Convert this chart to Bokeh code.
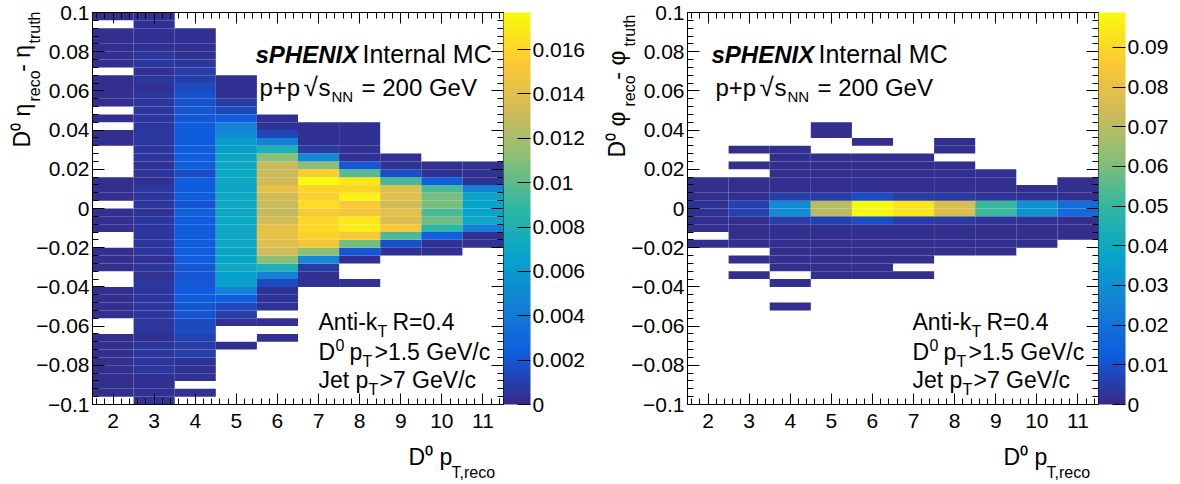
import numpy as np
from bokeh.plotting import figure
from bokeh.models import (Range1d, LinearAxis, SingleIntervalTicker, CustomJSTickFormatter,
                          LinearColorMapper, ColorBar, Label, Title, ColumnDataSource)
from bokeh.layouts import row
from bokeh.embed import file_html
from bokeh.resources import INLINE

FONT = "Liberation Sans"

# ---------------- data ----------------
pt_bins = [2, 3, 4, 5, 6, 7, 8, 9, 10, 11]      # D0 pT,reco bin centres (bin width 1)
y_low, y_bin, n_ybins = -0.1, 0.004, 50           # residual bins, listed bottom -> top

ETA_UNIT = 1e-4   # left panel values in units of 1e-4
eta_pt2 = [0, 2.5, 2.5, 2.5, 2.5, 2.5, 2.5, 2.5, 2.5, 0,
           0, 2.5, 2.5, 2.5, 2.5, 0, 0, 2.5, 2.5, 2.5,
           0, 0, 2.5, 2.5, 2.5, 0, 2.5, 2.5, 2.5, 0,
           0, 0, 0, 2.5, 2.5, 0, 2.5, 0, 2.5, 2.5,
           2.5, 2.5, 0, 2.5, 2.5, 2.5, 2.5, 2.5, 0, 2.5]
eta_pt3 = [3, 3, 3, 3, 6, 6, 6, 6, 3, 6,
           6, 6, 6, 6, 6, 6, 3, 6, 3, 6,
           6, 6, 6, 6, 4, 6, 6, 6, 3, 6,
           3, 6, 6, 6, 6, 6, 6, 6, 6, 6,
           3, 6, 3, 6, 6, 3, 3, 3, 3, 3]
eta_pt4 = [0, 3, 0, 4, 4, 4, 9, 9, 11, 15,
           15, 19, 19, 23, 23, 20, 20, 20, 23, 23,
           23, 23, 23, 23, 25, 19, 23, 23, 23, 16,
           23, 23, 23, 23, 23, 23, 20, 20, 18, 18,
           14, 9, 9, 6, 3, 3, 3, 3, 0, 0]
eta_pt5 = [0, 0, 0, 0, 0, 0, 0, 3, 0, 0,
           3, 8, 14, 24, 45, 64, 64, 70, 68, 68,
           70, 70, 70, 70, 70, 70, 70, 70, 70, 70,
           70, 70, 63, 63, 50, 44, 23, 14, 7, 3,
           3, 3, 0, 0, 0, 0, 0, 0, 0, 0]
eta_pt6 = [0, 0, 0, 0, 0, 0, 0, 0, 3, 0,
           3, 0, 4, 4, 4, 14, 44, 80, 113, 133,
           138, 143, 142, 134, 128, 130, 133, 142, 133, 131,
           130, 112, 80, 44, 13, 4, 3, 0, 0, 0,
           0, 0, 0, 0, 0, 0, 0, 0, 0, 0]
eta_pt7 = [0, 0, 0, 0, 0, 0, 0, 0, 0, 0,
           0, 0, 0, 0, 0, 3, 3, 8, 50, 112,
           150, 159, 162, 162, 153, 163, 157, 160, 177, 156,
           112, 50, 8, 3, 3, 3, 0, 0, 0, 0,
           0, 0, 0, 0, 0, 0, 0, 0, 0, 0]
eta_pt8 = [0, 0, 0, 0, 0, 0, 0, 0, 0, 0,
           0, 0, 0, 0, 0, 3, 0, 0, 3, 20,
           106, 153, 170, 168, 150, 153, 172, 160, 168, 99,
           20, 3, 3, 3, 3, 3, 0, 0, 0, 0,
           0, 0, 0, 0, 0, 0, 0, 0, 0, 0]
eta_pt9 = [0, 0, 0, 0, 0, 0, 0, 0, 0, 0,
           0, 0, 0, 0, 0, 0, 0, 0, 0, 3,
           18, 95, 152, 137, 140, 133, 140, 138, 94, 16,
           3, 3, 0, 0, 0, 0, 0, 0, 0, 0,
           0, 0, 0, 0, 0, 0, 0, 0, 0, 0]
eta_pt10 = [0, 0, 0, 0, 0, 0, 0, 0, 0, 0,
            0, 0, 0, 0, 0, 0, 0, 0, 0, 3,
            3, 24, 88, 104, 95, 107, 107, 95, 24, 3,
            3, 0, 0, 0, 0, 0, 0, 0, 0, 0,
            0, 0, 0, 0, 0, 0, 0, 0, 0, 0]
eta_pt11 = [0, 0, 0, 0, 0, 0, 0, 0, 0, 0,
            0, 0, 0, 0, 0, 0, 0, 0, 0, 0,
            3, 3, 45, 70, 66, 66, 68, 45, 4, 3,
            3, 0, 0, 0, 0, 0, 0, 0, 0, 0,
            0, 0, 0, 0, 0, 0, 0, 0, 0, 0]

PHI_UNIT = 1e-3   # right panel values in units of 1e-3
phi_pt2 = [0, 0, 0, 0, 0, 0, 0, 0, 0, 0,
           0, 0, 0, 0, 0, 0, 0, 0, 0, 0,
           1.5, 0, 1.5, 1.5, 2, 2, 1.5, 1.5, 1.5, 0,
           0, 0, 0, 0, 0, 0, 0, 0, 0, 0,
           0, 0, 0, 0, 0, 0, 0, 0, 0, 0]
phi_pt3 = [0, 0, 0, 0, 0, 0, 0, 0, 0, 0,
           0, 0, 0, 0, 0, 0, 1.5, 0, 1.5, 0,
           1.5, 1.5, 1.5, 1.5, 6, 6, 1.5, 1.5, 1.5, 0,
           1.5, 0, 1.5, 0, 0, 0, 0, 0, 0, 0,
           0, 0, 0, 0, 0, 0, 0, 0, 0, 0]
phi_pt4 = [0, 0, 0, 0, 0, 0, 0, 0, 0, 0,
           0, 0, 1.5, 0, 0, 1.5, 0, 1.5, 1.5, 1.5,
           1.5, 1.5, 1.5, 5, 29, 29, 5, 1.5, 1.5, 1.5,
           1.5, 1.5, 1.5, 0, 0, 0, 0, 0, 0, 0,
           0, 0, 0, 0, 0, 0, 0, 0, 0, 0]
phi_pt5 = [0, 0, 0, 0, 0, 0, 0, 0, 0, 0,
           0, 0, 0, 0, 0, 0, 1.5, 1.5, 1.5, 1.5,
           1.5, 1.5, 1.5, 6, 70, 70, 5, 1.5, 1.5, 1.5,
           1.5, 1.5, 0, 0, 1.5, 1.5, 0, 0, 0, 0,
           0, 0, 0, 0, 0, 0, 0, 0, 0, 0]
phi_pt6 = [0, 0, 0, 0, 0, 0, 0, 0, 0, 0,
           0, 0, 0, 0, 0, 0, 1.5, 1.5, 1.5, 1.5,
           1.5, 1.5, 1.5, 9, 98, 98, 9, 1.5, 1.5, 1.5,
           1.5, 1.5, 0, 1.5, 0, 0, 0, 0, 0, 0,
           0, 0, 0, 0, 0, 0, 0, 0, 0, 0]
phi_pt7 = [0, 0, 0, 0, 0, 0, 0, 0, 0, 0,
           0, 0, 0, 0, 0, 0, 1.5, 0, 1.5, 1.5,
           1.5, 1.5, 1.5, 5, 93, 93, 5, 1.5, 1.5, 1.5,
           1.5, 1.5, 0, 0, 0, 0, 0, 0, 0, 0,
           0, 0, 0, 0, 0, 0, 0, 0, 0, 0]
phi_pt8 = [0, 0, 0, 0, 0, 0, 0, 0, 0, 0,
           0, 0, 0, 0, 0, 0, 0, 0, 0, 1.5,
           1.5, 1.5, 1.5, 4, 77, 77, 4, 1.5, 1.5, 1.5,
           1.5, 0, 1.5, 1.5, 0, 0, 0, 0, 0, 0,
           0, 0, 0, 0, 0, 0, 0, 0, 0, 0]
phi_pt9 = [0, 0, 0, 0, 0, 0, 0, 0, 0, 0,
           0, 0, 0, 0, 0, 0, 0, 0, 0, 1.5,
           1.5, 1.5, 1.5, 3, 51, 51, 3, 1.5, 1.5, 1.5,
           0, 0, 0, 0, 0, 0, 0, 0, 0, 0,
           0, 0, 0, 0, 0, 0, 0, 0, 0, 0]
phi_pt10 = [0, 0, 0, 0, 0, 0, 0, 0, 0, 0,
            0, 0, 0, 0, 0, 0, 0, 0, 0, 0,
            1.5, 1.5, 1.5, 2, 31, 31, 2, 1.5, 0, 0,
            0, 0, 0, 0, 0, 0, 0, 0, 0, 0,
            0, 0, 0, 0, 0, 0, 0, 0, 0, 0]
phi_pt11 = [0, 0, 0, 0, 0, 0, 0, 0, 0, 0,
            0, 0, 0, 0, 0, 0, 0, 0, 0, 0,
            0, 1.5, 1.5, 1.5, 18, 18, 1.5, 1.5, 1.5, 0,
            0, 0, 0, 0, 0, 0, 0, 0, 0, 0,
            0, 0, 0, 0, 0, 0, 0, 0, 0, 0]

eta_columns = [eta_pt2, eta_pt3, eta_pt4, eta_pt5, eta_pt6, eta_pt7, eta_pt8, eta_pt9, eta_pt10, eta_pt11]
phi_columns = [phi_pt2, phi_pt3, phi_pt4, phi_pt5, phi_pt6, phi_pt7, phi_pt8, phi_pt9, phi_pt10, phi_pt11]

eta_zmax, eta_cb_step = 0.01767, 0.002
phi_zmax, phi_cb_step = 0.0988, 0.01

# ROOT kBird palette definition
bird_stops = [0.0, 0.125, 0.25, 0.375, 0.5, 0.625, 0.75, 0.875, 1.0]
bird_r = [0.2082, 0.0592, 0.0780, 0.0232, 0.1802, 0.5301, 0.8186, 0.9956, 0.9764]
bird_g = [0.1664, 0.3599, 0.5041, 0.6419, 0.7178, 0.7492, 0.7328, 0.7862, 0.9832]
bird_b = [0.5293, 0.8684, 0.8385, 0.7914, 0.6425, 0.4662, 0.3499, 0.1968, 0.0539]


def bird_palette(n=255):
    t = np.linspace(0, 1, n)
    r = np.interp(t, bird_stops, bird_r)
    g = np.interp(t, bird_stops, bird_g)
    b = np.interp(t, bird_stops, bird_b)
    return ["#%02x%02x%02x" % (int(round(a * 255)), int(round(c * 255)), int(round(d * 255)))
            for a, c, d in zip(r, g, b)]


BIRD = bird_palette()

# ---------------- layout constants ----------------
FIG_W, FIG_H = 590, 484
FRAME_W = 411
REF_XPX = 41.1        # px per pT unit
REF_YPX = 1960.0      # px per residual unit
FRAME_BOTTOM = 404.0  # page y of frame bottom
BASE_SHIFT = 0.35     # label baseline correction, in font-size units
NB = "\u00a0"


def num_formatter():
    return CustomJSTickFormatter(code="""
        if (Math.abs(tick) < 1e-12) { return "0"; }
        const s = String(parseFloat(tick.toFixed(6)));
        return s.replace("-", "\\u2212");
    """)


def style_axis(ax, tick_in, minor_in, labels):
    ax.axis_line_color = "black"
    ax.major_tick_line_color = "black"
    ax.minor_tick_line_color = "black"
    ax.major_tick_out = 0
    ax.minor_tick_out = 0
    ax.major_tick_in = tick_in
    ax.minor_tick_in = minor_in
    ax.axis_label = None
    if labels:
        ax.major_label_text_font = FONT
        ax.major_label_text_font_size = "21px"
        ax.major_label_text_color = "black"
        ax.formatter = num_formatter()
    else:
        ax.formatter = CustomJSTickFormatter(code="return '';")
        ax.major_label_text_font_size = "0px"
        ax.major_label_standoff = 0


def build_source(columns, unit):
    centres = y_low + y_bin * (np.arange(n_ybins) + 0.5)
    xs, ys, vs = [], [], []
    for pt, col in zip(pt_bins, columns):
        for yc, v in zip(centres, col):
            if v > 0:
                xs.append(pt)
                ys.append(float(yc))
                vs.append(v * unit)
    return ColumnDataSource(dict(x=xs, y=ys, v=vs))


def make_panel(columns, unit, zmax, cb_step, page_left, border_left, labels, titles):
    border_right = FIG_W - border_left - FRAME_W
    p = figure(width=FIG_W, height=FIG_H, x_range=Range1d(1.5, 11.5), y_range=Range1d(-0.1, 0.1),
               output_backend="svg", toolbar_location=None,
               min_border_left=border_left, min_border_right=border_right,
               min_border_top=12, min_border_bottom=80)
    p.grid.visible = False
    p.outline_line_color = "black"
    p.outline_line_width = 1
    p.background_fill_color = "white"
    p.border_fill_color = "white"

    mapper = LinearColorMapper(palette=BIRD, low=0, high=zmax)
    src = build_source(columns, unit)
    p.rect(x="x", y="y", width=1, height=y_bin, source=src,
           fill_color={"field": "v", "transform": mapper}, line_color=None)

    xa = p.xaxis[0]
    xa.ticker = SingleIntervalTicker(interval=1, num_minor_ticks=5)
    style_axis(xa, 11, 6, True)
    xa.major_label_standoff = 9
    ya = p.yaxis[0]
    ya.ticker = SingleIntervalTicker(interval=0.02, num_minor_ticks=5)
    style_axis(ya, 12, 6, True)
    ya.major_label_standoff = 3

    top = LinearAxis(ticker=SingleIntervalTicker(interval=1, num_minor_ticks=5))
    style_axis(top, 11, 6, False)
    p.add_layout(top, "above")
    right = LinearAxis(ticker=SingleIntervalTicker(interval=0.02, num_minor_ticks=5))
    style_axis(right, 12, 6, False)
    right.major_label_standoff = 2
    p.add_layout(right, "right")

    cb = ColorBar(color_mapper=mapper,
                  ticker=SingleIntervalTicker(interval=cb_step, num_minor_ticks=0),
                  formatter=num_formatter(), width=27, padding=0, margin=0,
                  label_standoff=2, major_tick_in=13, major_tick_out=0,
                  major_tick_line_color="black", minor_tick_line_color=None,
                  major_label_text_font=FONT, major_label_text_font_size="21px",
                  major_label_text_color="black", bar_line_color=None,
                  border_line_color=None, background_fill_color=None)
    p.add_layout(cb, "right")

    # invisible spacer below the x axis (pushes the x title down)
    spacer = LinearAxis(ticker=SingleIntervalTicker(interval=1, num_minor_ticks=0))
    style_axis(spacer, 0, 0, False)
    spacer.major_tick_out = 12
    spacer.axis_line_color = None
    spacer.major_tick_line_color = None
    spacer.minor_tick_line_color = None
    p.add_layout(spacer, "below")

    # axis titles (side-panel titles, so they are not clipped by the frame)
    for side, text, size, valign, offset, standoff in titles:
        p.add_layout(Title(text=text, align="left", vertical_align=valign, offset=offset,
                           standoff=standoff, text_font=FONT, text_font_size=f"{size}px",
                           text_font_style="normal", text_color="black"), side)

    frame_left = page_left + border_left
    for (text, px, py, size, style) in labels:
        x = 1.5 + (px - frame_left) / REF_XPX
        y = -0.1 + (FRAME_BOTTOM - (py - BASE_SHIFT * size)) / REF_YPX
        p.add_layout(Label(x=x, y=y, text=text, text_font=FONT, text_font_size=f"{size}px",
                           text_font_style=style, text_color="black",
                           text_align="left", text_baseline="alphabetic"))
    return p


def inner_labels(top_dx, bot_dx):
    return [
        ("sPHENIX", 255 + top_dx, 62, 24, "bold italic"),
        ("Internal MC", 362 + top_dx, 62, 25, "normal"),
        ("p+p", 259 + top_dx, 95, 24, "normal"),
        ("\u221a", 303 + top_dx, 96, 26, "normal"),
        ("s", 318 + top_dx, 95, 24, "normal"),
        ("NN", 331 + top_dx, 101, 15, "normal"),
        ("= 200 GeV", 361 + top_dx, 95, 24, "normal"),
        ("Anti-k", 318 + bot_dx, 330, 23, "normal"),
        ("T", 377 + bot_dx, 337, 16, "normal"),
        ("R=0.4", 392 + bot_dx, 330, 23, "normal"),
        ("D", 318 + bot_dx, 360, 23, "normal"),
        ("0", 335 + bot_dx, 350, 16, "normal"),
        ("p", 349 + bot_dx, 360, 23, "normal"),
        ("T", 362 + bot_dx, 367, 16, "normal"),
        (">1.5 GeV/c", 374 + bot_dx, 360, 23, "normal"),
        ("Jet p", 318 + bot_dx, 388, 23, "normal"),
        ("T", 368 + bot_dx, 395, 16, "normal"),
        (">7 GeV/c", 379 + bot_dx, 388, 23, "normal"),
    ]


def axis_titles(sym, main_off, reco_off, truth_off):
    return [
        ("below", "D\u2070 p", 23, "bottom", 316, -2.4),
        ("below", "T,reco", 16, "top", 359, -8.6),
        ("left", "reco", 16, "bottom", reco_off, -19.9),
        ("left", "truth", 16, "bottom", truth_off, -19.9),
        ("left", "D\u2070 " + sym + NB * 5 + "- " + sym, 23, "top", main_off, -5.8),
    ]


p1 = make_panel(eta_columns, ETA_UNIT, eta_zmax, eta_cb_step, 0, 92,
                inner_labels(0, 0), axis_titles("\u03b7", 257, 303, 361))
p2 = make_panel(phi_columns, PHI_UNIT, phi_zmax, phi_cb_step, 590, 97,
                inner_labels(456, 594), axis_titles("\u03c6", 247, 298, 358))

layout = row(p1, p2)
open("out.html", "w").write(file_html(layout, INLINE))
